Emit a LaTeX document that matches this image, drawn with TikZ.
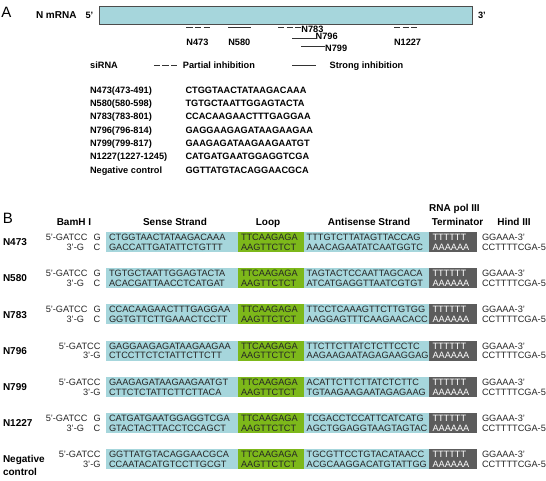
\documentclass[tikz,border=0pt]{standalone}
\usepackage{fontspec}
\setmainfont{Liberation Sans}
\definecolor{rnablue}{HTML}{A6D6DC}
\definecolor{loopgreen}{HTML}{7DB81A}
\definecolor{termgray}{HTML}{5C5C5C}
\tikzset{
  base/.style={inner sep=0pt, outer sep=0pt, text depth=0pt},
  fA/.style={base, font=\fontsize{9.2}{11}\selectfont\bfseries, text height=6.6pt},
  fmrna/.style={base, font=\fontsize{10}{12}\selectfont\bfseries, text height=7.2pt},
  fbig/.style={base, font=\fontsize{15}{18}\selectfont, text height=10.7pt},
  fhead/.style={base, font=\fontsize{10}{12}\selectfont\bfseries, text height=7.2pt},
  rowlbl/.style={base, font=\fontsize{10}{12}\selectfont\bfseries, text height=7.2pt, anchor=west},
  fseq/.style={base, font=\fontsize{9.2}{11}\selectfont, text height=6.6pt, text=black!85},
  fterm/.style={fseq, text=white},
  blk/.style={base, minimum height=20pt},
  mbar/.style={base, draw=black!70, line width=0.7pt, fill=rnablue},
  partial/.style={line width=0.9pt, black!80, dash pattern=on 6.2pt off 2.4pt},
  strong/.style={line width=0.9pt, black!80},
}
\newcommand\bRow[8]{%
  % #1 id, #2 y, #3 has G (1/0), #4 sense top, #5 sense bottom, #6 anti top, #7 anti bottom, #8 label
  \node[blk, fill=rnablue, minimum width=132pt] (sen#1) at (172,#2) {};
  \node[blk, fill=loopgreen, minimum width=65.7pt] (lop#1) at (270.85,#2) {};
  \node[blk, fill=rnablue, minimum width=124.8pt] (ant#1) at (366.1,#2) {};
  \node[blk, fill=termgray, minimum width=48pt] (ter#1) at (452.5,#2) {};
  \node[fseq, anchor=west] (st#1) at ([xshift=3pt,yshift=4.9pt]sen#1.west) {#4};
  \node[fseq, anchor=west] (sb#1) at ([xshift=3pt,yshift=-5pt]sen#1.west) {#5};
  \node[fseq, anchor=west] (lt#1) at ([xshift=3pt,yshift=4.9pt]lop#1.west) {TTCAAGAGA};
  \node[fseq, anchor=west] (lb#1) at ([xshift=3pt,yshift=-5pt]lop#1.west) {AAGTTCTCT};
  \node[fseq, anchor=west] (at#1) at ([xshift=3pt,yshift=4.9pt]ant#1.west) {#6};
  \node[fseq, anchor=west] (ab#1) at ([xshift=3pt,yshift=-5pt]ant#1.west) {#7};
  \node[fterm, anchor=west] (tt#1) at ([xshift=4pt,yshift=4.9pt]ter#1.west) {TTTTTT};
  \node[fterm, anchor=west] (tb#1) at ([xshift=4pt,yshift=-5pt]ter#1.west) {AAAAAA};
  \node[fseq, anchor=west] (rt#1) at ([xshift=5.5pt,yshift=4.9pt]ter#1.east) {GGAAA-3'};
  \node[fseq, anchor=west] (rb#1) at ([xshift=5.5pt,yshift=-5pt]ter#1.east) {CCTTTTCGA-5'};
  \ifnum#3=1
    \node[fseq, anchor=east] (ft#1) at (87.5,{#2-4.9}) {5'-GATCC};
    \node[fseq, anchor=east] (fb#1) at (84,{#2+5}) {3'-G};
    \node[fseq, anchor=west] (gt#1) at (93.5,{#2-4.9}) {G};
    \node[fseq, anchor=west] (gb#1) at (93.5,{#2+5}) {C};
  \else
    \node[fseq, anchor=east] (ft#1) at (100.5,{#2-4.9}) {5'-GATCC};
    \node[fseq, anchor=east] (fb#1) at (100.5,{#2+5}) {3'-G};
  \fi
  \node[rowlbl] (lbl#1) at (3,#2) {#8};
}
\begin{document}
\begin{tikzpicture}[x=1pt,y=-1pt]
\useasboundingbox (0,0) rectangle (546,481);
% ---------------- Part A ----------------
\node[fbig, anchor=west] (labA) at (1.5,12) {A};
\node[fmrna, anchor=west] (mrna) at (36,15.3) {N mRNA};
\node[fA, anchor=west] (m5) at (85.5,15.3) {5'};
\node[mbar, minimum width=373.5pt, minimum height=18.3pt, anchor=north west] (bar) at (99,6) {};
\node[fA, anchor=west] (m3) at (478,15.3) {3'};

\coordinate (a473) at (186.4,27.7); \coordinate (b473) at (209.8,27.7);
\draw[partial] (a473) -- (b473);
\coordinate (a580) at (228.3,27.7); \coordinate (b580) at (250.7,27.7);
\draw[strong] (a580) -- (b580);
\coordinate (a783) at (278,27.7); \coordinate (b783) at (301.4,27.7);
\draw[partial] (a783) -- (b783);
\node[fA, anchor=west] (t783) at (301.4,29.3) {N783};
\coordinate (a796) at (292.3,38.3); \coordinate (b796) at (315.7,38.3);
\draw[strong] (a796) -- (b796);
\node[fA, anchor=west] (t796) at (315.7,36) {N796};
\coordinate (a799) at (301.4,46); \coordinate (b799) at (325.2,46);
\draw[strong] (a799) -- (b799);
\node[fA, anchor=west] (t799) at (325.2,48.3) {N799};
\coordinate (a1227) at (394,27.7); \coordinate (b1227) at (417.4,27.7);
\draw[partial] (a1227) -- (b1227);
\node[fA, anchor=west] (l473) at (186.4,42.7) {N473};
\node[fA, anchor=west] (l580) at (228.3,42.7) {N580};
\node[fA, anchor=west] (l1227) at (394,42.7) {N1227};

% legend
\node[fA, anchor=west] (sirna) at (90.2,65) {siRNA};
\coordinate (lpa) at (153.8,65); \coordinate (lpb) at (178.3,65);
\draw[partial] (lpa) -- (lpb);
\node[fA, anchor=west] (partialtxt) at (182.9,65) {Partial inhibition};
\coordinate (lsa) at (292,65); \coordinate (lsb) at (316.4,65);
\draw[strong] (lsa) -- (lsb);
\node[fA, anchor=west] (strongtxt) at (329.7,65) {Strong inhibition};

% table
\node[fA, anchor=west] (n1) at (90,90) {N473(473-491)};
\node[fA, anchor=west] (q1) at (185.5,90) {CTGGTAACTATAAGACAAA};
\node[fA, anchor=west] (n2) at (90,103.3) {N580(580-598)};
\node[fA, anchor=west] (q2) at (185.5,103.3) {TGTGCTAATTGGAGTACTA};
\node[fA, anchor=west] (n3) at (90,116.6) {N783(783-801)};
\node[fA, anchor=west] (q3) at (185.5,116.6) {CCACAAGAACTTTGAGGAA};
\node[fA, anchor=west] (n4) at (90,129.9) {N796(796-814)};
\node[fA, anchor=west] (q4) at (185.5,129.9) {GAGGAAGAGATAAGAAGAA};
\node[fA, anchor=west] (n5) at (90,143.2) {N799(799-817)};
\node[fA, anchor=west] (q5) at (185.5,143.2) {GAAGAGATAAGAAGAATGT};
\node[fA, anchor=west] (n6) at (90,156.5) {N1227(1227-1245)};
\node[fA, anchor=west] (q6) at (185.5,156.5) {CATGATGAATGGAGGTCGA};
\node[fA, anchor=west] (n7) at (90,169.8) {Negative control};
\node[fA, anchor=west] (q7) at (185.5,169.8) {GGTTATGTACAGGAACGCA};

% ---------------- Part B ----------------
\node[fbig, anchor=west] (labB) at (2.8,218) {B};
\node[fhead] (hBam) at (74,222) {BamH I};
\node[fhead] (hSense) at (175,222) {Sense Strand};
\node[fhead] (hLoop) at (268,222) {Loop};
\node[fhead] (hAnti) at (369,222) {Antisense Strand};
\node[fhead] (hRna) at (454.5,208) {RNA pol III};
\node[fhead] (hTerm) at (457.5,222) {Terminator};
\node[fhead] (hHind) at (514,222) {Hind III};

\bRow{a}{242}{1}{CTGGTAACTATAAGACAAA}{GACCATTGATATTCTGTTT}{TTTGTCTTATAGTTACCAG}{AAACAGAATATCAATGGTC}{N473}
\bRow{b}{278.2}{1}{TGTGCTAATTGGAGTACTA}{ACACGATTAACCTCATGAT}{TAGTACTCCAATTAGCACA}{ATCATGAGGTTAATCGTGT}{N580}
\bRow{c}{314.4}{1}{CCACAAGAACTTTGAGGAA}{GGTGTTCTTGAAACTCCTT}{TTCCTCAAAGTTCTTGTGG}{AAGGAGTTTCAAGAACACC}{N783}
\bRow{d}{350.6}{0}{GAGGAAGAGATAAGAAGAA}{CTCCTTCTCTATTCTTCTT}{TTCTTCTTATCTCTTCCTC}{AAGAAGAATAGAGAAGGAG}{N796}
\bRow{e}{386.8}{0}{GAAGAGATAAGAAGAATGT}{CTTCTCTATTCTTCTTACA}{ACATTCTTCTTATCTCTTC}{TGTAAGAAGAATAGAGAAG}{N799}
\bRow{f}{423}{1}{CATGATGAATGGAGGTCGA}{GTACTACTTACCTCCAGCT}{TCGACCTCCATTCATCATG}{AGCTGGAGGTAAGTAGTAC}{N1227}
\bRow{g}{459.2}{0}{GGTTATGTACAGGAACGCA}{CCAATACATGTCCTTGCGT}{TGCGTTCCTGTACATAACC}{ACGCAAGGACATGTATTGG}{Negative}
\node[rowlbl] (lblg2) at (3,471.5) {control};
\end{tikzpicture}
\end{document}
